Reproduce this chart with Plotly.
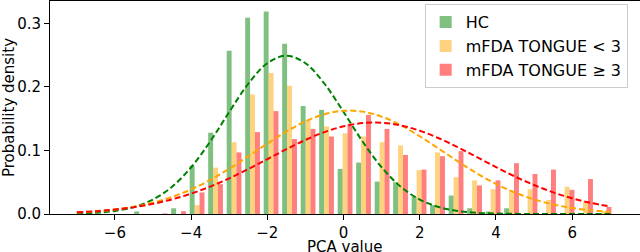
import plotly.graph_objects as go

# ---------------- data ----------------
series_names = ["HC", "mFDA TONGUE < 3", "mFDA TONGUE \u2265 3"]
x_title = "PCA value"
y_title = "Probability density"

bin_centers = [-6.757, -6.272, -5.786, -5.301, -4.815, -4.330, -3.844, -3.359,
               -2.873, -2.388, -1.902, -1.417, -0.931, -0.446, 0.040, 0.525,
               1.011, 1.496, 1.982, 2.467, 2.953, 3.438, 3.924, 4.409, 4.895,
               5.380, 5.866, 6.351, 6.837]

hc_density = [0, 0, 0, 0.004, 0, 0.009, 0.076, 0.128, 0.257, 0.309, 0.319,
              0.268, 0.170, 0.164, 0.071, 0.081, 0.051, 0.050, 0.027, 0.014,
              0.029, 0.009, 0.004, 0.009, 0, 0, 0, 0, 0]

mfda_low_density = [0, 0, 0, 0, 0, 0, 0.014, 0.073, 0.113, 0.188, 0.222,
                    0.202, 0.148, 0.138, 0.127, 0.122, 0.113, 0.108, 0.069,
                    0.097, 0.058, 0.053, 0.039, 0.037, 0.039, 0.022, 0.043,
                    0.019, 0.0045]

mfda_high_density = [0, 0, 0, 0, 0.001, 0.0045, 0.034, 0.047, 0.097, 0.129,
                     0.162, 0.118, 0.134, 0.122, 0.142, 0.156, 0.134, 0.093,
                     0.070, 0.091, 0.099, 0.045, 0.053, 0.080, 0.063, 0.070,
                     0.038, 0.055, 0.011]

curve_x = [-7.0, -6.5, -6.0, -5.5, -5.0, -4.5, -4.0, -3.5, -3.0, -2.5, -2.0,
           -1.5, -1.0, -0.5, 0.0, 0.5, 1.0, 1.5, 2.0, 2.5, 3.0, 3.5, 4.0, 4.5,
           5.0, 5.5, 6.0, 6.5, 7.0]

hc_fit = [0.0007, 0.0019, 0.0048, 0.0110, 0.0228, 0.0430, 0.0736, 0.1141,
          0.1607, 0.2051, 0.2374, 0.2493, 0.2374, 0.2051, 0.1607, 0.1141,
          0.0736, 0.0430, 0.0228, 0.0110, 0.0048, 0.0019, 0.0007, 0.0002,
          0.0001, 0.0, 0.0, 0.0, 0.0]

mfda_low_fit = [0.0023, 0.0041, 0.0070, 0.0114, 0.0179, 0.0269, 0.0388,
                0.0537, 0.0713, 0.0907, 0.1108, 0.1298, 0.1459, 0.1572,
                0.1625, 0.1612, 0.1533, 0.1399, 0.1224, 0.1028, 0.0828,
                0.0640, 0.0474, 0.0337, 0.0230, 0.0150, 0.0094, 0.0057,
                0.0033]

mfda_high_fit = [0.0027, 0.0045, 0.0071, 0.0108, 0.0161, 0.0231, 0.0321,
                 0.0432, 0.0562, 0.0708, 0.0864, 0.1020, 0.1166, 0.1290,
                 0.1381, 0.1432, 0.1436, 0.1395, 0.1311, 0.1193, 0.1051,
                 0.0896, 0.0739, 0.0590, 0.0456, 0.0341, 0.0247, 0.0173,
                 0.0118]

x_tick_vals = [-6, -4, -2, 0, 2, 4, 6]
x_tick_text = ["\u22126", "\u22124", "\u22122", "0", "2", "4", "6"]
y_tick_vals = [0.0, 0.1, 0.2, 0.3]
y_tick_text = ["0.0", "0.1", "0.2", "0.3"]

# ---------------- styles ----------------
bar_colors = ["rgba(0,128,0,0.5)", "rgba(255,165,0,0.5)", "rgba(255,0,0,0.5)"]
line_colors = ["green", "orange", "red"]
FONT = "DejaVu Sans"
FS = 15

fig = go.Figure()
for name, vals, col in zip(series_names,
                           [hc_density, mfda_low_density, mfda_high_density],
                           bar_colors):
    fig.add_trace(go.Bar(x=bin_centers, y=vals, name=name,
                         marker=dict(color=col, line=dict(width=0))))

for fit, col in zip([hc_fit, mfda_low_fit, mfda_high_fit], line_colors):
    fig.add_trace(go.Scatter(x=curve_x, y=fit, mode="lines", showlegend=False,
                             line=dict(color=col, width=2, dash="6px,3px",
                                       shape="spline")))

fig.update_layout(
    width=640, height=252,
    margin=dict(l=50, r=0, t=1, b=38, autoexpand=False),
    paper_bgcolor="white", plot_bgcolor="white",
    barmode="group", bargap=0.2, bargroupgap=0,
    font=dict(family=FONT, size=FS, color="black"),
    showlegend=True,
    legend=dict(x=0.635, xanchor="left", y=0.985, yanchor="top",
                bgcolor="rgba(255,255,255,0.85)", bordercolor="#cccccc",
                borderwidth=1, font=dict(family=FONT, size=16),
                tracegroupgap=0, itemwidth=30),
    xaxis=dict(range=[-7.704, 7.78], tickvals=x_tick_vals, ticktext=x_tick_text,
               ticks="outside", ticklen=5, tickcolor="black", showgrid=False,
               zeroline=False, showline=True, linecolor="black", linewidth=1,
               mirror=True, automargin=False),
    yaxis=dict(range=[0, 0.3354], tickvals=y_tick_vals, ticktext=y_tick_text,
               ticks="outside", ticklen=5, tickcolor="black", showgrid=False,
               zeroline=False, showline=True, linecolor="black", linewidth=1,
               mirror=True, automargin=False,
               title=dict(text=y_title, standoff=2,
                          font=dict(family=FONT, size=FS))),
    annotations=[dict(text=x_title, xref="paper", yref="paper", x=0.5,
                      y=-0.104, xanchor="center", yanchor="top",
                      showarrow=False, font=dict(family=FONT, size=FS))],
)

fig.write_html("out.html", config={"displayModeBar": False},
               post_script="document.body.style.margin='0';"
                           "document.body.style.overflow='hidden';")
